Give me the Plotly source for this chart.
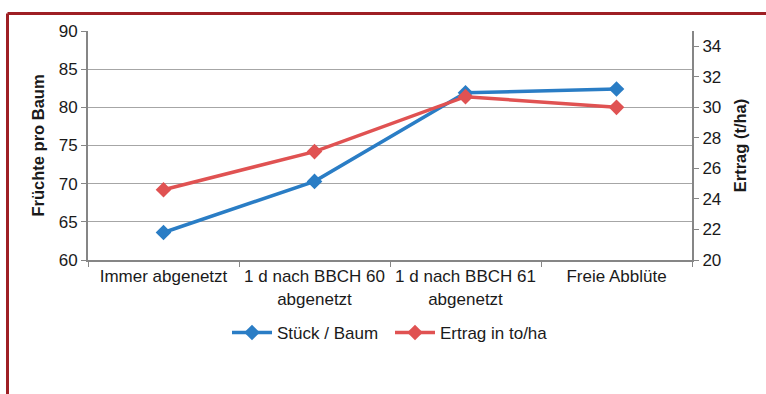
import plotly.graph_objects as go

categories = ["Immer abgenetzt", "1 d nach BBCH 60<br>abgenetzt", "1 d nach BBCH 61<br>abgenetzt", "Freie Abblüte"]
stueck_baum = [63.6, 70.3, 81.9, 82.4]
ertrag = [24.6, 27.1, 30.7, 30.0]

BLUE = "#2A7DC5"
RED = "#E05252"
FONT = "Liberation Sans, Arial, sans-serif"
FS = 17
FT = 16.5

fig = go.Figure()
fig.add_trace(go.Scatter(
    x=categories, y=stueck_baum, name="Stück / Baum", mode="lines+markers",
    line=dict(color=BLUE, width=3.5), marker=dict(symbol="diamond", size=12, color=BLUE),
))
fig.add_trace(go.Scatter(
    x=categories, y=ertrag, name="Ertrag in to/ha", mode="lines+markers", yaxis="y2",
    line=dict(color=RED, width=3.5), marker=dict(symbol="diamond", size=12, color=RED),
))

W, H = 766, 394
L, R, T, B = 88, 692, 31, 260

def px(x):
    return (x - L) / (R - L)

def py(y):
    return (B - y) / (B - T)

fig.update_layout(
    width=W, height=H, autosize=False,
    margin=dict(l=L, r=W - R, t=T, b=H - B, pad=0),
    paper_bgcolor="white", plot_bgcolor="white",
    font=dict(family=FONT, size=FS, color="#1a1a1a"),
    showlegend=True,
    legend=dict(orientation="h", x=0.5, xanchor="center", y=py(333), yanchor="middle",
                font=dict(size=FS, family=FONT, color="#1a1a1a"), itemwidth=40,
                entrywidth=108, entrywidthmode="pixels",
                tracegroupgap=0, bgcolor="rgba(0,0,0,0)"),
    xaxis=dict(
        type="category", range=[-0.5, 3.5], automargin=False,
        showgrid=False, showline=True, linecolor="#868686", linewidth=2,
        ticks="outside", tickson="boundaries", ticklen=5, tickcolor="#868686",
        tickfont=dict(size=FS, family=FONT, color="#1a1a1a"), zeroline=False,
    ),
    yaxis=dict(
        range=[60, 90], dtick=5, tick0=60, automargin=False,
        showgrid=True, gridcolor="#A6A6A6", gridwidth=1,
        showline=True, linecolor="#868686", linewidth=2, ticks="outside", ticklen=5,
        tickcolor="#868686", zeroline=False,
        tickfont=dict(size=FS, family=FONT, color="#1a1a1a"),
        title=dict(text="<b>Früchte pro Baum</b>", font=dict(size=FT, family=FONT, color="#1a1a1a"), standoff=10),
    ),
    yaxis2=dict(
        range=[20, 35], dtick=2, tick0=20, overlaying="y", side="right", showgrid=False,
        automargin=False,
        showline=True, linecolor="#868686", linewidth=2, ticks="outside", ticklen=5,
        tickcolor="#868686", zeroline=False,
        tickfont=dict(size=FS, family=FONT, color="#1a1a1a"),
        title=dict(text="<b>Ertrag (t/ha)</b>", font=dict(size=FT, family=FONT, color="#1a1a1a"), standoff=14),
    ),
    shapes=[
        dict(type="line", xref="paper", yref="paper", x0=px(7.5), x1=px(780), y0=py(13.5), y1=py(13.5),
             line=dict(color="#9E1F24", width=3)),
        dict(type="line", xref="paper", yref="paper", x0=px(7.5), x1=px(7.5), y0=py(13.5), y1=py(410),
             line=dict(color="#9E1F24", width=3)),
    ],
)

fig.write_html("out.html", config={"displayModeBar": False},
               post_script="document.body.style.margin='0';")
